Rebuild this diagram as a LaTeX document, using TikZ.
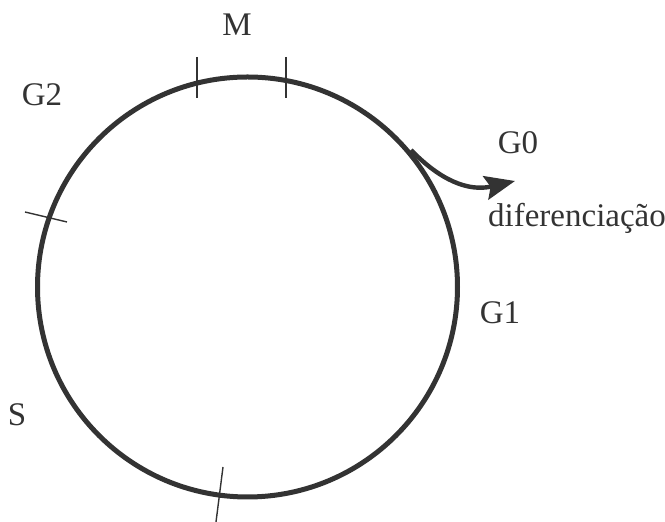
\documentclass[tikz,border=0pt]{standalone}
\usepackage{fontspec}
\setmainfont{Liberation Serif}
\usetikzlibrary{arrows.meta}
\definecolor{cink}{HTML}{333333}
\tikzset{
  every picture/.style={font=\fontsize{16.5}{19}\selectfont},
  ring/.style={draw=cink, line width=2.5pt},
  tick/.style={draw=cink, line width=0.7pt},
  arrow/.style={-{Stealth[length=15pt, width=12pt, inset=2.5pt]}, draw=cink, line width=2.2pt},
  phase/.style={text=cink, inner sep=0pt},
}
\begin{document}
\begin{tikzpicture}[x=0.5pt, y=-0.5pt]
  \useasboundingbox (0,0) rectangle (665,522);
  % the cycle
  \coordinate (centre) at (247.5,287);
  \draw[ring] (centre) circle [radius=105pt];
  % phase limits
  \draw[tick] (197,57) -- (197,98);
  \draw[tick] (286,57) -- (286,98);
  \draw[tick] (25,212) -- (67,222);
  \draw[tick] (223,467) -- (216,522);
  % phase names
  \node[phase] (m) at (237,25) {M};
  \node[phase] (g2) at (42,95) {G2};
  \node[phase] (g0) at (518,143) {G0};
  \node[phase] (g1) at (500,313) {G1};
  \node[phase] (s) at (17,415) {S};
  \node[phase] (dif) at (577,218) {diferenciação};
  % leaving the cycle
  \coordinate (exit) at (411,150);
  \coordinate (out) at (515,181);
  \draw[arrow] (exit) .. controls (440,180) and (468,192) .. (out);
\end{tikzpicture}
\end{document}
